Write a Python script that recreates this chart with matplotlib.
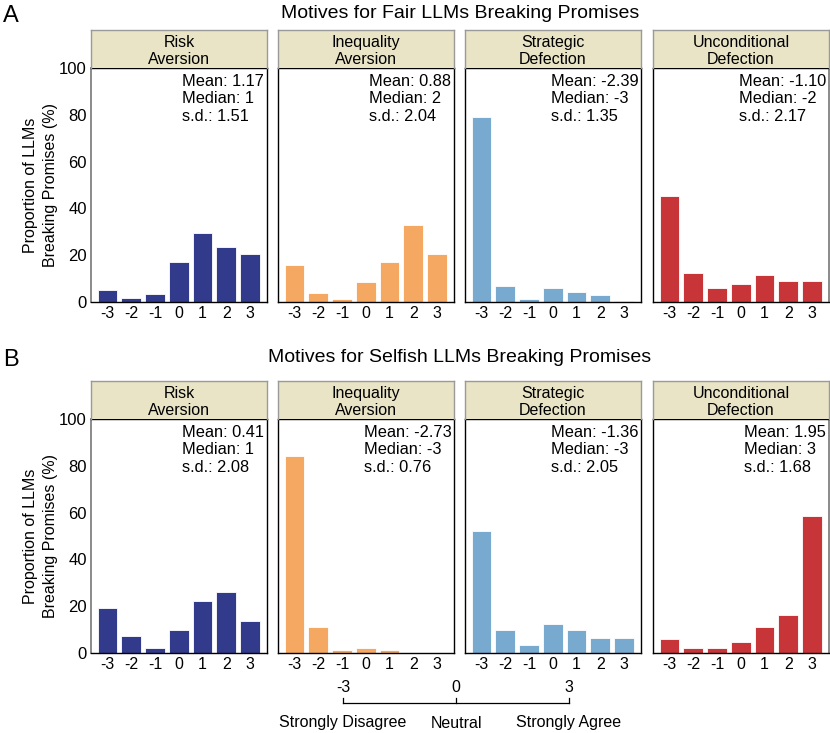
import matplotlib
matplotlib.use("Agg")
import matplotlib.pyplot as plt
import numpy as np

plt.rcParams['font.family'] = ['Liberation Sans', 'DejaVu Sans']

levels = [-3, -2, -1, 0, 1, 2, 3]
motives = ["Risk\nAversion", "Inequality\nAversion", "Strategic\nDefection", "Unconditional\nDefection"]
colors = ["#323a8b", "#f5a862", "#78a9cf", "#c83538"]

fair_risk = [5.1, 1.5, 3.4, 17.1, 29.6, 23.5, 20.6]
fair_ineq = [15.9, 4.0, 1.1, 8.7, 17.3, 32.9, 20.6]
fair_strat = [79.0, 7.0, 1.1, 5.8, 4.4, 3.0, 0.5]
fair_uncond = [45.4, 12.4, 5.8, 7.7, 11.5, 8.8, 9.1]

selfish_risk = [19.4, 7.1, 2.1, 10.0, 22.2, 25.9, 13.5]
selfish_ineq = [84.0, 11.1, 1.4, 2.1, 1.1, 0.0, 0.0]
selfish_strat = [52.1, 9.7, 3.3, 12.5, 10.0, 6.4, 6.5]
selfish_uncond = [5.8, 2.0, 2.1, 4.8, 11.1, 16.4, 58.5]

fair_stats = [("1.17", "1", "1.51"), ("0.88", "2", "2.04"), ("-2.39", "-3", "1.35"), ("-1.10", "-2", "2.17")]
selfish_stats = [("0.41", "1", "2.08"), ("-2.73", "-3", "0.76"), ("-1.36", "-3", "2.05"), ("1.95", "3", "1.68")]

titles = ["Motives for Fair LLMs Breaking Promises", "Motives for Selfish LLMs Breaking Promises"]
row_labels = ["A", "B"]
yticks = [0, 20, 40, 60, 80, 100]

rows = [
    [fair_risk, fair_ineq, fair_strat, fair_uncond],
    [selfish_risk, selfish_ineq, selfish_strat, selfish_uncond],
]
row_stats = [fair_stats, selfish_stats]

W, H = 830, 733
fig = plt.figure(figsize=(W / 100, H / 100), dpi=100)

lefts = [91, 278, 465, 653]
pw = 176
plot_tops = [68, 419]
ph = 234
strip_h = 38
title_y = [13, 357]
FS = 11.5

for r in range(2):
    top = plot_tops[r]
    for c in range(4):
        l = lefts[c]
        ax = fig.add_axes([l / W, 1 - (top + ph) / H, pw / W, ph / H])
        ax.bar(levels, rows[r][c], width=0.83, color=colors[c],
               edgecolor="#ffffff", linewidth=0.6)
        ax.set_xlim(-3.7, 3.72)
        ax.set_ylim(0, 100)
        ax.set_xticks(levels)
        ax.set_xticklabels([str(v) for v in levels], fontsize=FS)
        ax.tick_params(axis='both', length=0, pad=3)
        if c == 0:
            ax.set_yticks(yticks)
            ax.set_yticklabels([str(v) for v in yticks], fontsize=FS + 0.5)
            ax.set_ylabel("Proportion of LLMs\nBreaking Promises (%)", fontsize=FS,
                          labelpad=1, linespacing=1.35)
        else:
            ax.set_yticks([])
        for s in ax.spines.values():
            s.set_color("black")
            s.set_linewidth(1.0)
        if c == 0:
            ax.spines['left'].set_color("#8a8a8a")
            ax.spines['left'].set_linewidth(1.4)
        if c == 3:
            ax.spines['right'].set_color("#8a8a8a")
            ax.spines['right'].set_linewidth(1.4)
        m, md, sd = row_stats[r][c]
        ax.text(0.985, 0.975, f"Mean: {m}\nMedian: {md}\ns.d.: {sd}",
                transform=ax.transAxes, ha='right', va='top',
                multialignment='left', fontsize=FS + 0.3, linespacing=1.22)
        # strip
        sax = fig.add_axes([l / W, 1 - top / H, pw / W, strip_h / H])
        sax.set_xticks([])
        sax.set_yticks([])
        sax.set_facecolor("#e8e4c5")
        for s in sax.spines.values():
            s.set_color("#9a9a9a")
            s.set_linewidth(1.0)
        sax.spines['bottom'].set_visible(False)
        sax.text(0.5, 0.45, motives[c], transform=sax.transAxes, ha='center', va='center',
                 fontsize=FS, linespacing=1.2)
    fig.text(460 / W, 1 - title_y[r] / H, titles[r], ha='center', va='center', fontsize=14)
    fig.text(3 / W, 1 - (title_y[r] + 3) / H, row_labels[r], ha='left', va='center', fontsize=17)

# bottom scale legend
lax = fig.add_axes([0, 0, 1, 1], facecolor='none')
lax.set_xlim(0, W)
lax.set_ylim(H, 0)
lax.axis('off')
scale_vals = [-3, 0, 3]
scale_names = ["Strongly Disagree", "Neutral", "Strongly Agree"]
x0, x1 = 343, 569
xs = [x0 + (v + 3) / 6 * (x1 - x0) for v in scale_vals]
lax.plot([x0, x1], [703, 703], color="black", lw=0.9)
for x, v, nm in zip(xs, scale_vals, scale_names):
    lax.plot([x, x], [698, 703], color="black", lw=0.9)
    lax.text(x, 687, str(v), ha='center', va='center', fontsize=FS)
    lax.text(x, 723, nm, ha='center', va='center', fontsize=FS)

fig.savefig("out.png", dpi=100)
